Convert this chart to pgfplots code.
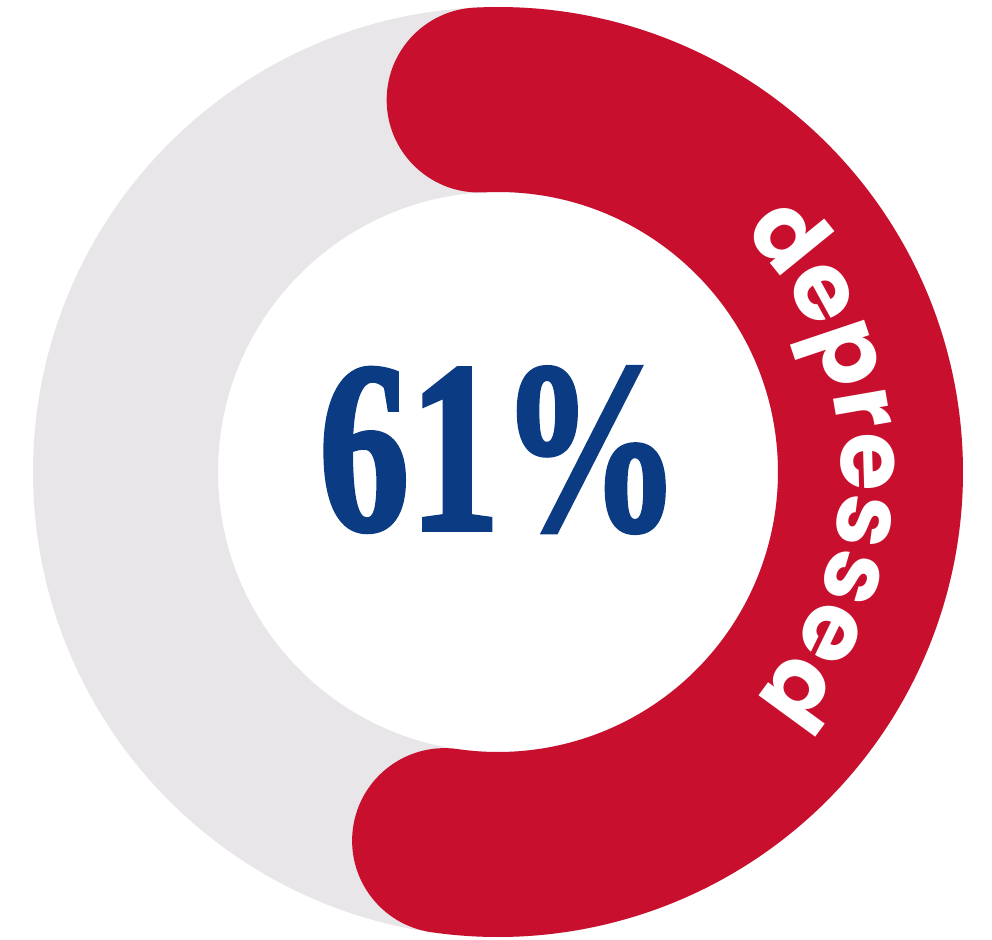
\documentclass[border=0pt]{standalone}
\usepackage{fontspec}
\usepackage{graphicx}
\usepackage{pgfplots}
\pgfplotsset{compat=1.18}
\usepackage{pgfplotstable}
\usetikzlibrary{decorations.text}
\newfontfamily\numfont{Liberation Serif}[BoldFeatures={FakeBold=2}]
\newfontfamily\popfont{Poppins}
\definecolor{ringred}{HTML}{C8102E}
\definecolor{ringgrey}{HTML}{E8E6E8}
\definecolor{numblue}{HTML}{0B3B82}

% share of respondents
\pgfplotstableread{
label value
depressed 61
}\share

\begin{document}
\begin{tikzpicture}
\pgfplotstablegetelem{0}{value}\of\share
\let\pct\pgfplotsretval
% half of the round cap, as an angle on the mid circle
\pgfmathsetmacro{\capang}{0.925/3.725*180/pi}
\pgfmathsetmacro{\startang}{92.9}
\pgfmathsetmacro{\endang}{\startang-(\pct*3.6-2*\capang)}
\begin{axis}[
  scale only axis,
  width=9.92cm, height=9.39cm,
  xmin=0, xmax=992, ymin=0, ymax=939,
  hide axis, clip=false]
\draw[ringgrey, line width=1.85cm] (axis cs:498,467) circle[radius=3.725cm];
\draw[ringred, line width=1.85cm, line cap=round]
  (axis cs:498,467) ++(\startang:3.725cm)
  arc[start angle=\startang, end angle=\endang, radius=3.725cm];
\node[numblue, inner sep=0pt] at (axis cs:500,489)
  {\resizebox{3.62cm}{1.62cm}{\numfont\bfseries\pct\%}};
\path[decorate, decoration={text along path, text color=white,
    text={|\popfont\bfseries\fontsize{27}{30}\selectfont|depressed},
    text align=center}]
  (axis cs:498,467) ++(61.5:3.43cm) arc[start angle=61.5, end angle=-58.5, radius=3.43cm];
\end{axis}
\pgfresetboundingbox
\path[use as bounding box] (current axis.south west) rectangle (current axis.north east);
\end{tikzpicture}
\end{document}
